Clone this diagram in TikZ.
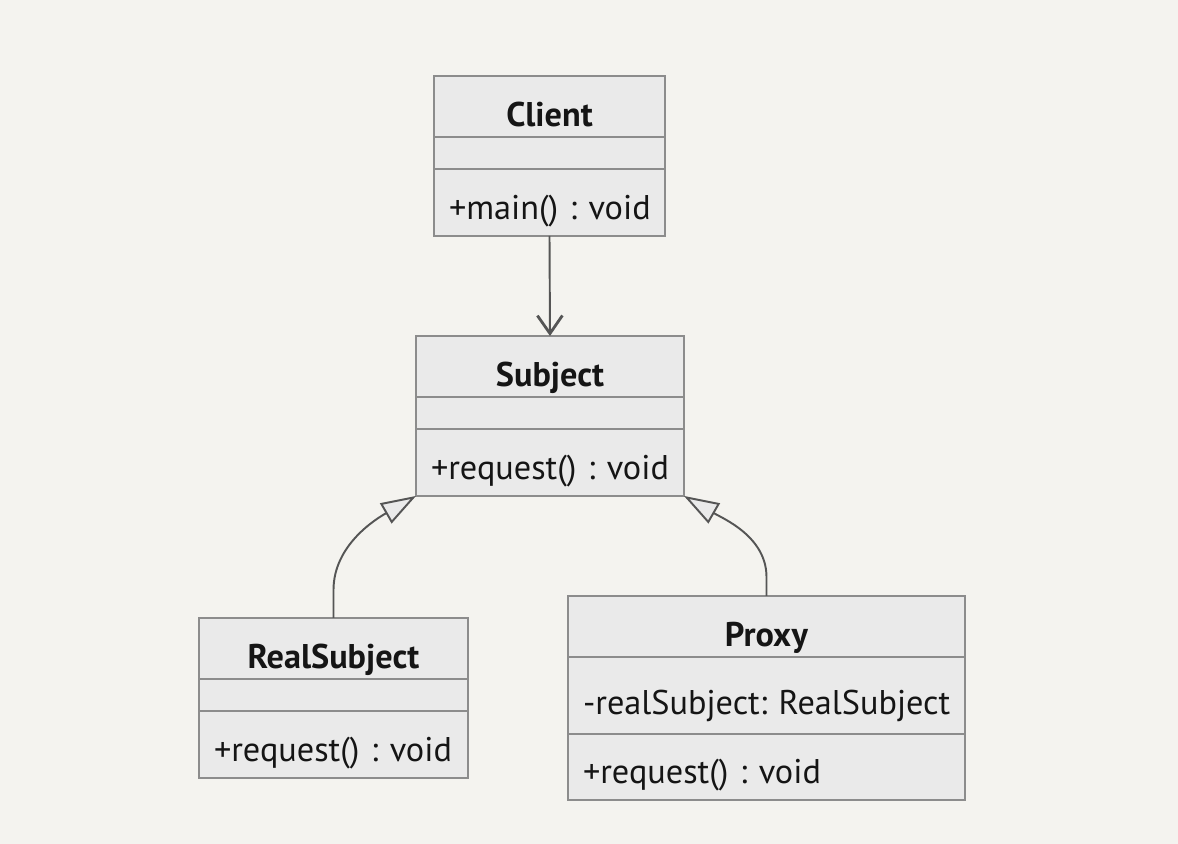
\documentclass[tikz,border=0pt]{standalone}
\usepackage{fontspec}
\setmainfont{PT Sans}
\usetikzlibrary{arrows.meta,positioning}
\definecolor{paper}{HTML}{F4F3EF}
\definecolor{umlfill}{HTML}{EAEAEA}
\definecolor{umlline}{HTML}{8C8C8C}
\definecolor{edge}{HTML}{555555}
\definecolor{ink}{HTML}{151515}
\frenchspacing
\hyphenpenalty=10000
\exhyphenpenalty=10000

\begin{document}
\begin{tikzpicture}[x=0.02cm,y=-0.02cm,
  head/.style={draw=umlline,fill=umlfill,line width=0.8pt,text=ink,anchor=north,
    font=\fontsize{19.5}{23}\selectfont\bfseries,inner sep=0pt,outer sep=0pt,
    minimum height=1.22cm,text height=0.8cm,text depth=0pt},
  part/.style={draw=umlline,fill=umlfill,line width=0.8pt,text=ink,align=left,
    font=\fontsize{19.5}{23}\selectfont,inner xsep=0.3cm,inner ysep=0pt,outer sep=0pt,
    text height=0.68cm,text depth=0pt},
  blank/.style={part,text height=0pt,minimum height=0.64cm},
  assoc/.style={draw=edge,line width=1.1pt,-{Straight Barb[length=0.36cm,width=0.5cm,line width=1.6pt]}},
  inherit/.style={draw=edge,line width=1.1pt,-{Triangle[length=0.7cm,width=0.46cm,fill=umlfill]}},
]
  \fill[paper] (0,0) rectangle (1178,844);

  % Client
  \node[head,minimum width=4.62cm] (client) at (549.5,76) {Client};
  \node[blank,text width=4.02cm,below=0pt of client] (clientAttr) {};
  \node[part,text width=4.02cm,minimum height=1.34cm,below=0pt of clientAttr] (clientOps) {+main()~:~void};

  % Subject
  \node[head,minimum width=5.36cm] (subject) at (550,336) {Subject};
  \node[blank,text width=4.76cm,below=0pt of subject] (subjectAttr) {};
  \node[part,text width=4.76cm,minimum height=1.34cm,below=0pt of subjectAttr] (subjectOps) {+request()~:~void};

  % RealSubject
  \node[head,minimum width=5.38cm] (realSub) at (333.5,618) {RealSubject};
  \node[blank,text width=4.78cm,below=0pt of realSub] (realSubAttr) {};
  \node[part,text width=4.78cm,minimum height=1.34cm,below=0pt of realSubAttr] (realSubOps) {+request()~:~void};

  % Proxy
  \node[head,minimum width=7.94cm] (proxy) at (766.5,596) {Proxy};
  \node[part,text width=7.34cm,minimum height=1.54cm,text height=0.76cm,below=0pt of proxy] (proxyAttr) {-realSubject:~RealSubject};
  \node[part,text width=7.34cm,minimum height=1.32cm,below=0pt of proxyAttr] (proxyOps) {+request()~:~void};

  % relations
  \draw[assoc] (clientOps.south) -- (subject.north);
  \draw[inherit] (realSub.north) -- ++(0,-28) .. controls +(0,-45) and +(-40,23) .. (subjectOps.south west);
  \draw[inherit] (proxy.north) -- ++(0,-19) .. controls +(0,-40) and +(40,23) .. (subjectOps.south east);
\end{tikzpicture}
\end{document}
